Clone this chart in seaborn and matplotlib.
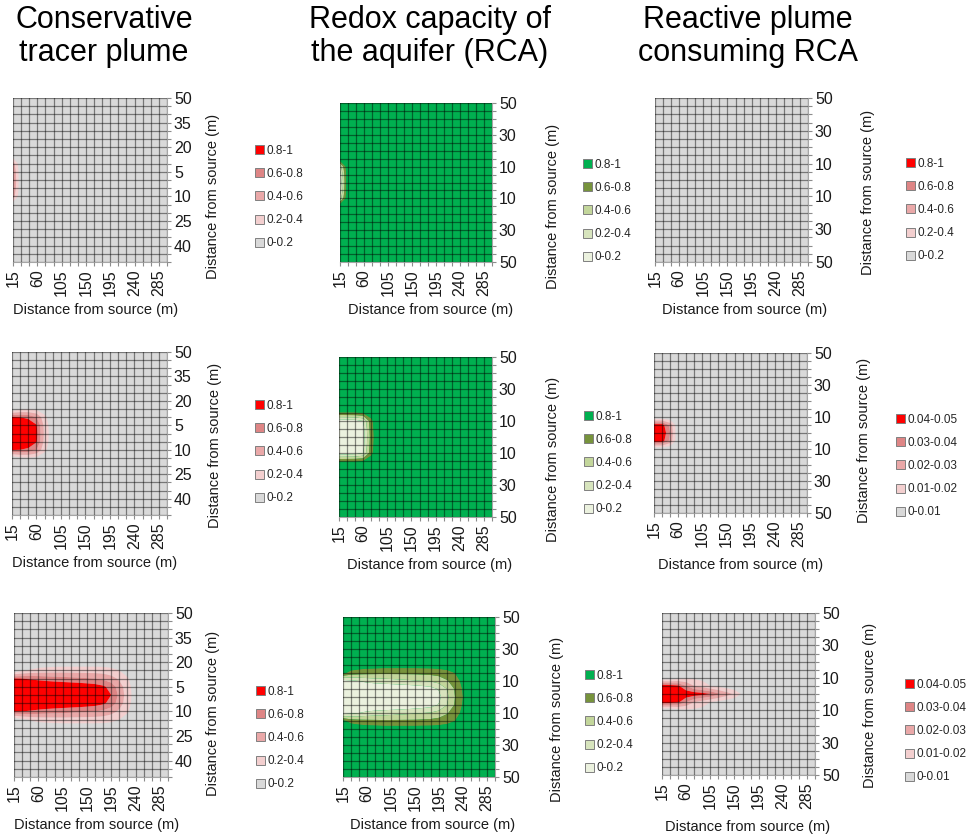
import numpy as np
import seaborn as sns
import matplotlib
matplotlib.use("Agg")
import matplotlib.pyplot as plt
from matplotlib.patches import Patch
from matplotlib import font_manager

# grid of the model (m)
x_dist = [15, 30, 45, 60, 75, 90, 105, 120, 135, 150, 165, 180, 195, 210, 225, 240, 255, 270, 285, 300]
y_dist = [50, 45, 40, 35, 30, 25, 20, 15, 10, 5, 0, -5, -10, -15, -20, -25, -30, -35, -40, -45, -50]
half_y = [0, 5, 10, 15, 20]   # rows below are |y| = 0, 5, 10, 15, 20 m, columns start at x = 15 m

# conservative tracer (fraction of source concentration)
tracer_t1 = [
    [0.65, 0.0],
    [0.62, 0.0],
    [0.50, 0.0],
    [0.05, 0.0],
]
tracer_t2 = [
    [1.00, 1.00, 1.00, 0.85, 0.35, 0.05, 0.0],
    [1.00, 1.00, 0.98, 0.82, 0.33, 0.05, 0.0],
    [0.82, 0.80, 0.75, 0.60, 0.25, 0.04, 0.0],
    [0.03, 0.15, 0.18, 0.15, 0.08, 0.01, 0.0],
]
tracer_t3 = [
    [1.00, 1.00, 1.00, 1.00, 1.00, 1.00, 1.00, 1.00, 1.00, 0.99, 0.96, 0.90, 0.80, 0.55, 0.30, 0.10, 0.0],
    [1.00, 1.00, 1.00, 0.99, 0.99, 0.98, 0.97, 0.96, 0.95, 0.93, 0.90, 0.84, 0.72, 0.50, 0.28, 0.09, 0.0],
    [0.82, 0.80, 0.78, 0.75, 0.72, 0.70, 0.68, 0.66, 0.64, 0.62, 0.60, 0.56, 0.48, 0.36, 0.22, 0.07, 0.0],
    [0.02, 0.15, 0.22, 0.26, 0.28, 0.29, 0.30, 0.30, 0.30, 0.30, 0.30, 0.29, 0.26, 0.20, 0.12, 0.04, 0.0],
    [0.00, 0.02, 0.04, 0.06, 0.07, 0.08, 0.08, 0.08, 0.08, 0.08, 0.08, 0.08, 0.07, 0.05, 0.03, 0.01, 0.0],
]

# redox capacity of the aquifer (fraction remaining, background 1)
rca_t1 = [
    [0.05, 1.0],
    [0.10, 1.0],
    [0.30, 1.0],
    [1.00, 1.0],
]
rca_t2 = [
    [0.00, 0.00, 0.02, 0.10, 0.70, 1.0],
    [0.00, 0.00, 0.03, 0.12, 0.72, 1.0],
    [0.05, 0.07, 0.10, 0.20, 0.75, 1.0],
    [0.78, 0.78, 0.78, 0.80, 0.90, 1.0],
]
rca_t3 = [
    [0.00, 0.00, 0.00, 0.00, 0.00, 0.00, 0.00, 0.00, 0.00, 0.00, 0.02, 0.05, 0.15, 0.35, 0.60, 0.80, 1.0],
    [0.00, 0.00, 0.00, 0.00, 0.00, 0.01, 0.01, 0.02, 0.03, 0.05, 0.08, 0.12, 0.22, 0.40, 0.62, 0.82, 1.0],
    [0.10, 0.15, 0.20, 0.25, 0.28, 0.30, 0.32, 0.34, 0.36, 0.38, 0.40, 0.42, 0.48, 0.58, 0.70, 0.86, 1.0],
    [0.85, 0.72, 0.68, 0.66, 0.65, 0.64, 0.64, 0.64, 0.64, 0.64, 0.65, 0.66, 0.68, 0.72, 0.80, 0.90, 1.0],
    [1.00, 0.97, 0.94, 0.92, 0.91, 0.90, 0.90, 0.90, 0.90, 0.90, 0.90, 0.90, 0.91, 0.93, 0.95, 0.98, 1.0],
]

# reactive plume
reactive_t1 = [
    [0.0, 0.0],
]
reactive_t2 = [
    [0.050, 0.050, 0.030, 0.0],
    [0.045, 0.045, 0.027, 0.0],
    [0.000, 0.000, 0.000, 0.0],
]
reactive_t3 = [
    [0.050, 0.050, 0.050, 0.048, 0.046, 0.044, 0.040, 0.032, 0.025, 0.018, 0.008, 0.0],
    [0.046, 0.045, 0.042, 0.030, 0.020, 0.015, 0.010, 0.007, 0.004, 0.002, 0.000, 0.0],
    [0.000, 0.000, 0.005, 0.008, 0.008, 0.007, 0.005, 0.003, 0.001, 0.000, 0.000, 0.0],
]

levels_unit = [0, 0.2, 0.4, 0.6, 0.8, 1.0]
labels_unit = ["0-0.2", "0.2-0.4", "0.4-0.6", "0.6-0.8", "0.8-1"]
levels_small = [0, 0.01, 0.02, 0.03, 0.04, 0.05]
labels_small = ["0-0.01", "0.01-0.02", "0.02-0.03", "0.03-0.04", "0.04-0.05"]

reds = ["#D9D9D9", "#F3CFCF", "#EAA8A8", "#DE8585", "#FF0000"]
greens = ["#EBF1DE", "#D7E4BD", "#C3D69B", "#77933C", "#00B050"]

yticks_a = [50, 35, 20, 5, -10, -25, -40]
yticks_b = [50, 30, 10, -10, -30, -50]
xticks = [15, 60, 105, 150, 195, 240, 285]

titles = ["Conservative\ntracer plume", "Redox capacity of\nthe aquifer (RCA)", "Reactive plume\nconsuming RCA"]
title_x = [104, 430, 748]
axis_label = "Distance from source (m)"


def build_field(half_rows, background):
    z = np.full((len(y_dist), len(x_dist)), float(background))
    for k, row in enumerate(half_rows):
        for j, v in enumerate(row):
            z[y_dist.index(half_y[k]), j] = v
            z[y_dist.index(-half_y[k]), j] = v
    return z


sns.set_theme(style="white")
plt.rcParams["font.family"] = ["Liberation Sans", "DejaVu Sans"]

installed = {f.name for f in font_manager.fontManager.ttflist}
if "Liberation Sans Narrow" in installed:
    title_family, title_size = ["Liberation Sans Narrow", "DejaVu Sans"], 25
else:
    title_family, title_size = ["Liberation Sans", "DejaVu Sans"], 22

W, H = 969, 836
fig = plt.figure(figsize=(W / 100, H / 100), dpi=100)
fig.patch.set_facecolor("white")

# panel: data, background, levels, colours, labels, yticks, box (l, t, r, b px),
# legend anchor, ylabel centre, xlabel centre (px)
panels = [
    (tracer_t1, 0.0, levels_unit, reds, labels_unit, yticks_a, (13, 98, 167, 262), (255, 197), (213, 196), (96, 310)),
    (rca_t1, 1.0, levels_unit, greens, labels_unit, yticks_b, (340, 103, 492, 262), (583, 211), (553, 206), (431, 310)),
    (reactive_t1, 0.0, levels_unit, reds, labels_unit, yticks_b, (655, 98, 808, 262), (906, 210), (868, 192), (745, 310)),
    (tracer_t2, 0.0, levels_unit, reds, labels_unit, yticks_a, (12, 352, 167, 515), (255, 452), (215, 445), (95, 563)),
    (rca_t2, 1.0, levels_unit, greens, labels_unit, yticks_b, (339, 357, 492, 517), (584, 463), (553, 459), (430, 565)),
    (reactive_t2, 0.0, levels_small, reds, labels_small, yticks_b, (654, 353, 807, 513), (896, 466), (864, 440), (741, 565)),
    (tracer_t3, 0.0, levels_unit, reds, labels_unit, yticks_a, (14, 613, 168, 777), (256, 738), (213, 713), (97, 825)),
    (rca_t3, 1.0, levels_unit, greens, labels_unit, yticks_b, (343, 617, 495, 777), (585, 722), (557, 719), (433, 825)),
    (reactive_t3, 0.0, levels_small, reds, labels_small, yticks_b, (662, 613, 815, 775), (905, 731), (870, 705), (748, 827)),
]

for (rows, bg, levels, colors, labels, yt, box, leg, ylab, xlab) in panels:
    l, t, r, b = box
    ax = fig.add_axes([l / W, 1 - b / H, (r - l) / W, (b - t) / H])
    z = build_field(rows, bg)
    ax.set_facecolor(colors[0] if bg == 0.0 else colors[-1])
    ax.contourf(x_dist, y_dist, z, levels=levels, colors=colors, antialiased=True)

    ax.set_xlim(15, 300)
    ax.set_ylim(-50, 50)
    ax.set_xticks(x_dist, minor=True)
    ax.set_yticks(y_dist, minor=True)
    ax.set_xticks(xticks)
    ax.set_xticklabels([str(v) for v in xticks], rotation=90)
    ax.set_yticks(yt)
    ax.set_yticklabels([str(abs(v)) for v in yt])
    ax.yaxis.tick_right()
    ax.yaxis.set_label_position("right")

    ax.set_axisbelow(False)
    ax.grid(which="both", color="black", alpha=0.45, linewidth=0.9)
    ax.tick_params(which="both", direction="out", length=3, width=0.8, color="#8C8C8C",
                   labelsize=11.5, labelcolor="#1A1A1A", pad=2, right=True, bottom=True, left=False)
    for side in ["top", "left"]:
        ax.spines[side].set_visible(False)
    for side in ["right", "bottom"]:
        ax.spines[side].set_color("#A6A6A6")
        ax.spines[side].set_linewidth(0.8)

    ax.set_xlabel(axis_label, fontsize=10.5, color="#1A1A1A")
    ax.xaxis.label.set_va("center")
    ax.xaxis.set_label_coords((xlab[0] - l) / (r - l), (b - xlab[1]) / (b - t))
    ax.set_ylabel(axis_label, fontsize=10.5, color="#1A1A1A")
    ax.yaxis.label.set_va("center")
    ax.yaxis.set_label_coords((ylab[0] - l) / (r - l), (b - ylab[1]) / (b - t))

    handles = [Patch(facecolor=c, edgecolor="#7F7F7F", linewidth=0.7, label=lab)
               for c, lab in zip(colors[::-1], labels[::-1])]
    ax.legend(handles=handles, loc="center left",
              bbox_to_anchor=((leg[0] - l) / (r - l), (b - leg[1]) / (b - t)),
              frameon=False, fontsize=8.5, handlelength=0.8, handleheight=0.8,
              handletextpad=0.15, labelspacing=0.95, borderaxespad=0, borderpad=0)

for txt, xc in zip(titles, title_x):
    fig.text(xc / W, 1 - 5 / H, txt, ha="center", va="top", fontsize=title_size,
             family=title_family, linespacing=1.15, color="#000000")

fig.savefig("out.png", dpi=100)
